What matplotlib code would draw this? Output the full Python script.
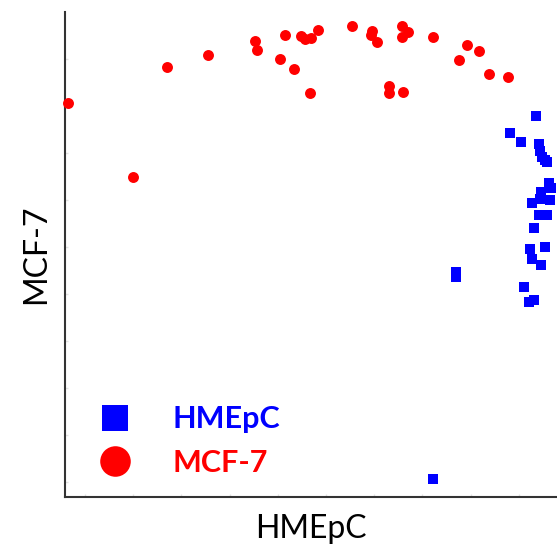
import matplotlib
matplotlib.use("Agg")
import matplotlib.pyplot as plt
from matplotlib.lines import Line2D
import numpy as np

# values, in axis units (origin at the lower-left corner of the axes)
mcf7_x = [3, 68, 102, 143, 190, 192, 215, 220, 229, 236, 240, 246, 253, 245,
          287, 307, 306, 312, 324, 324, 338, 337, 337, 343, 368, 402, 414,
          394, 424, 443]
mcf7_y = [394, 320, 430, 442, 456, 447, 438, 462, 428, 461, 458, 459, 467, 404,
          471, 466, 462, 455, 411, 404, 405, 471, 460, 465, 460, 452, 446,
          437, 423, 420]

hmepc_x = [471, 445, 456, 474, 475, 477, 480, 482, 484, 486, 476, 467, 475,
           485, 474, 482, 469, 465, 480, 467, 476, 391, 391, 459, 464, 469, 368]
hmepc_y = [381, 364, 355, 353, 346, 340, 337, 335, 314, 309, 305, 294, 298,
           297, 282, 282, 269, 248, 250, 238, 232, 225, 220, 210, 195, 197, 18]

x_max, y_max = 492, 485

plt.rcParams['font.family'] = ['Lato', 'DejaVu Sans']

fig = plt.figure(figsize=(5.57, 5.47), dpi=100)
ax = fig.add_axes([65 / 557, 50 / 547, 492 / 557, 485 / 547])

ax.scatter(hmepc_x, hmepc_y, marker='s', s=52, color='#0000ff', linewidths=0, clip_on=False, zorder=3)
ax.scatter(mcf7_x, mcf7_y, marker='o', s=62, color='#ff0000', linewidths=0, clip_on=False, zorder=3)

ax.set_xlim(0, x_max)
ax.set_ylim(0, y_max)
ax.spines['top'].set_visible(False)
ax.spines['right'].set_visible(False)
for sp in ('left', 'bottom'):
    ax.spines[sp].set_color('#333333')
    ax.spines[sp].set_linewidth(1.5)

ax.set_xticks(np.arange(20, x_max, 48.2))
ax.set_yticks(np.arange(15, y_max, 47))
ax.tick_params(direction='in', length=2, width=1, color='#e3e3e3', labelbottom=False, labelleft=False)

ax.set_xlabel('HMEpC', fontsize=23, labelpad=12)
ax.set_ylabel('MCF-7', fontsize=23, labelpad=10)

handles = [
    Line2D([], [], linestyle='none', marker='s', markersize=19, color='#0000ff', markeredgewidth=0),
    Line2D([], [], linestyle='none', marker='o', markersize=22, color='#ff0000', markeredgewidth=0),
]
leg = ax.legend(handles, ['HMEpC', 'MCF-7'], frameon=False, loc='lower left',
                bbox_to_anchor=(16 / 492, 5 / 485), prop={'weight': 'bold', 'size': 22},
                handlelength=1.2, handletextpad=1.3, labelspacing=0.5, borderpad=0)
for txt, c in zip(leg.get_texts(), ['#0000ff', '#ff0000']):
    txt.set_color(c)

fig.savefig('out.png', dpi=100)
